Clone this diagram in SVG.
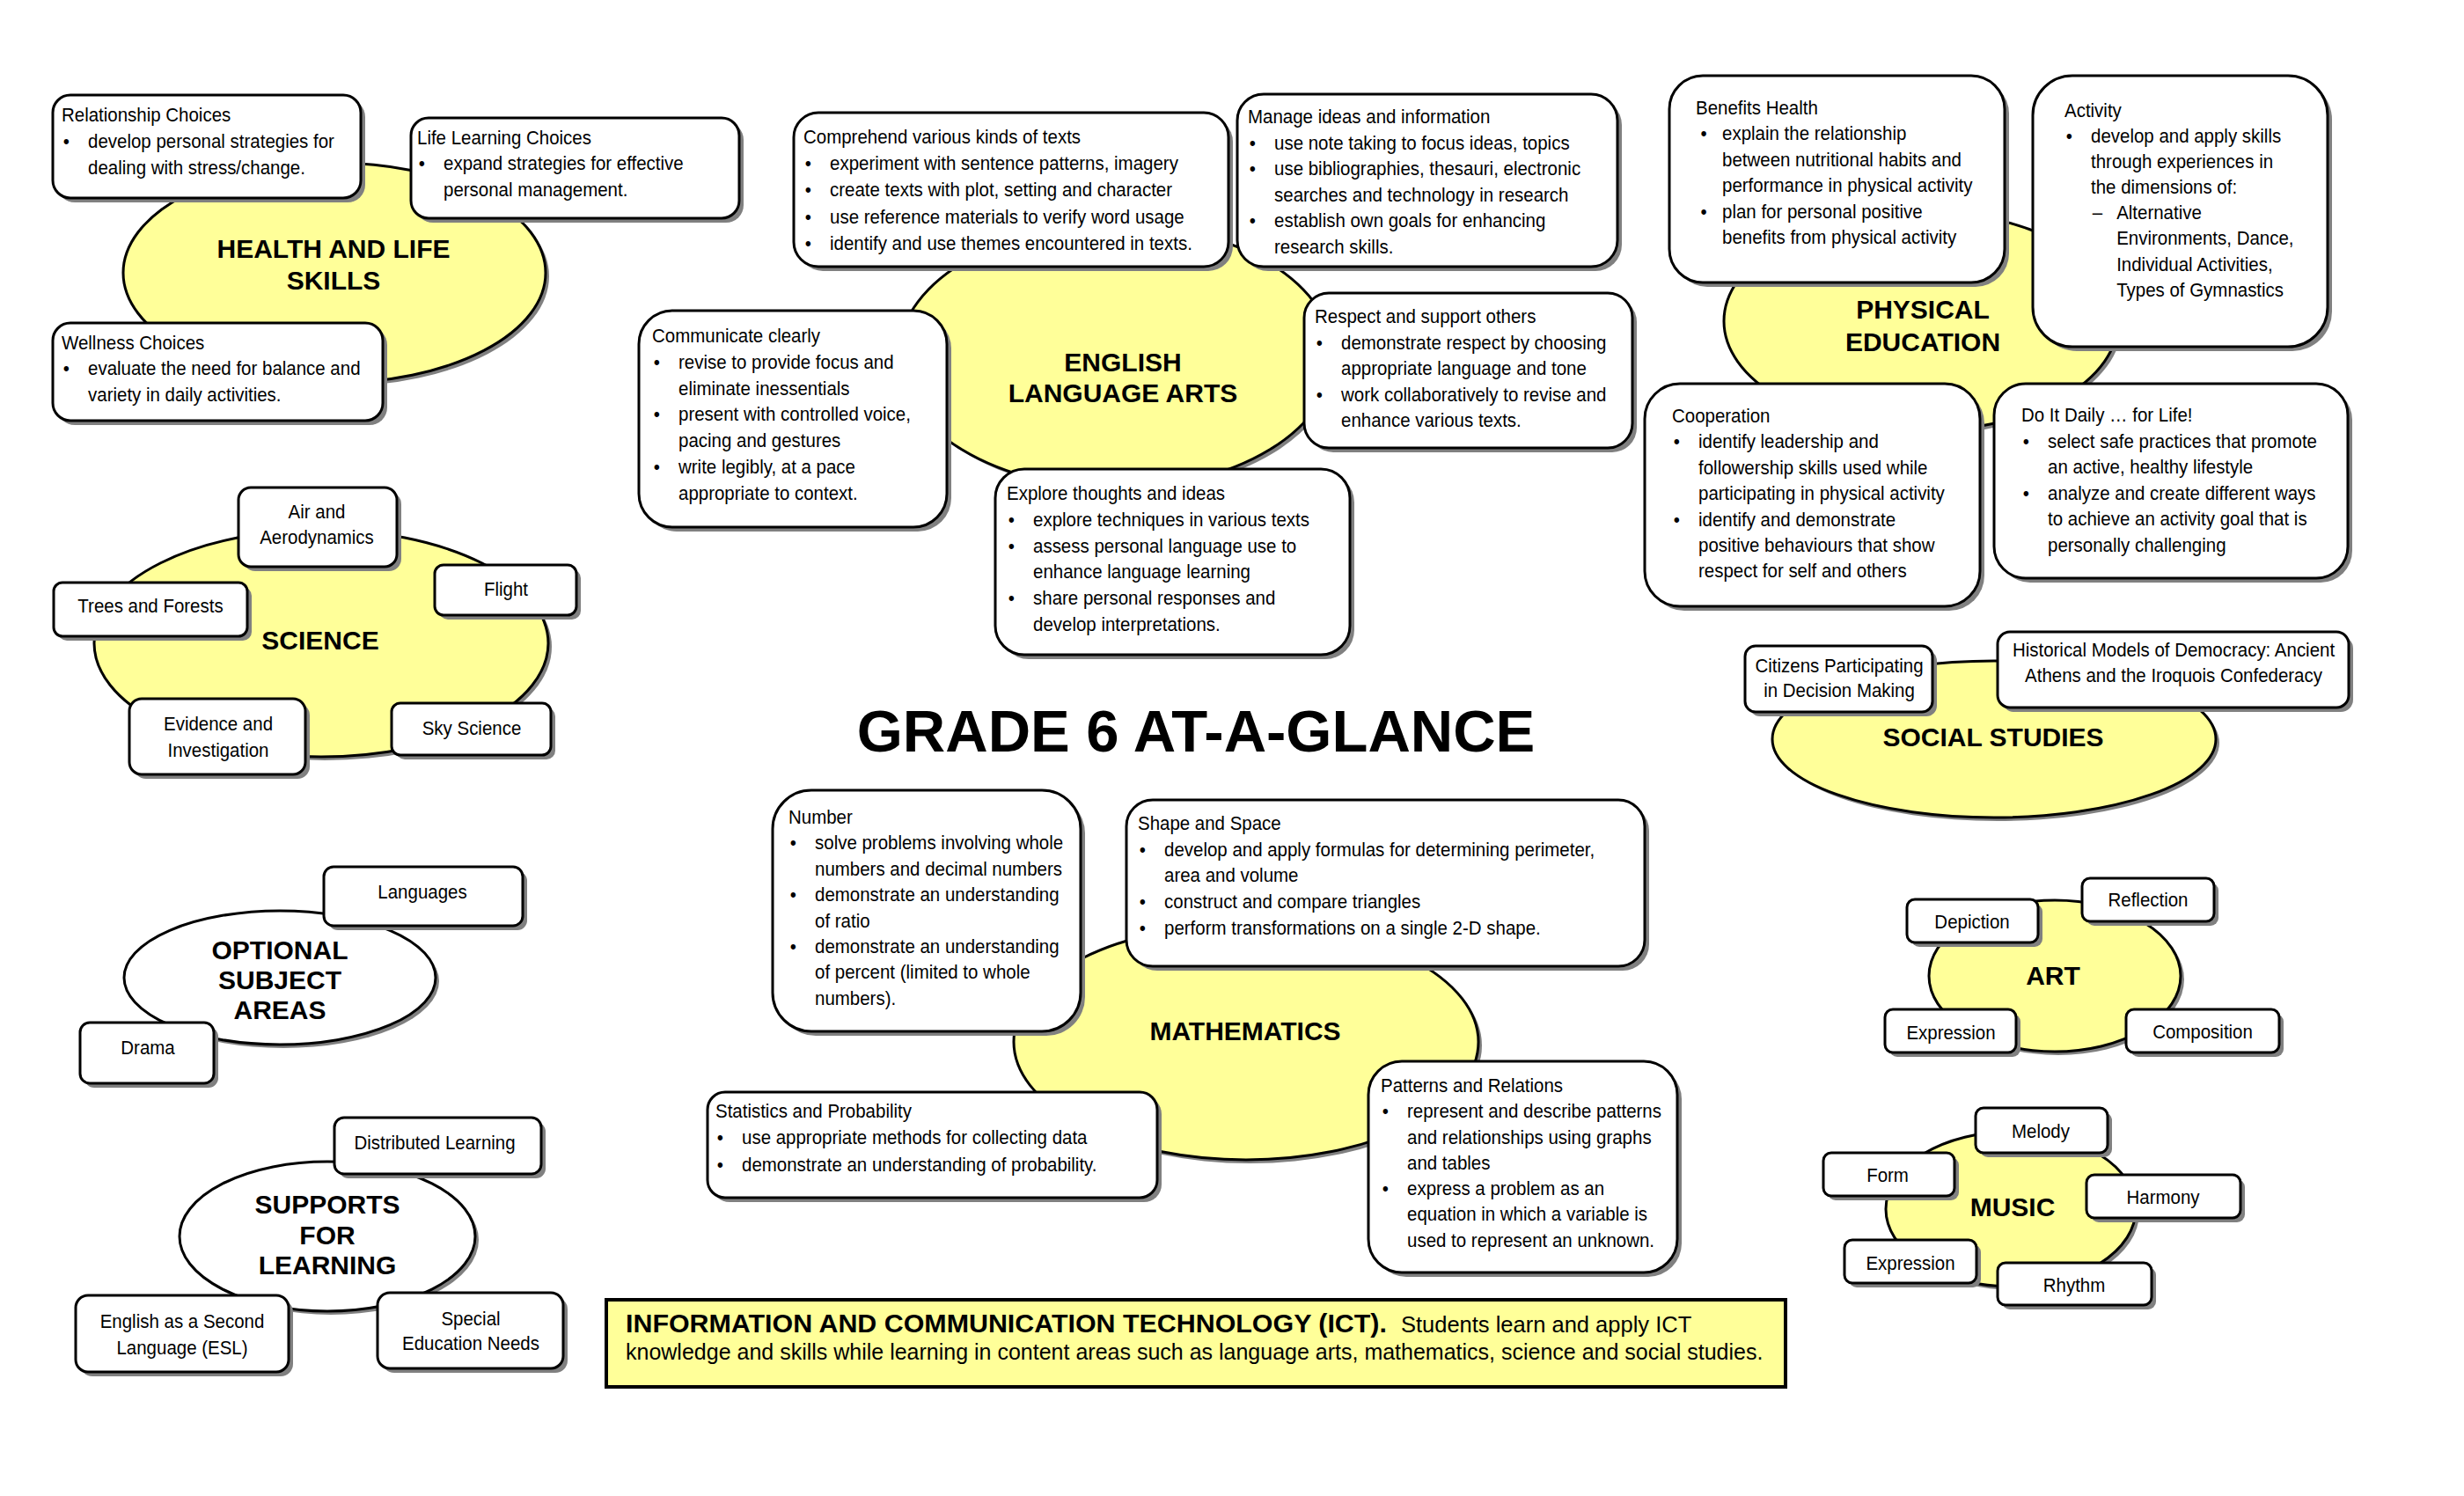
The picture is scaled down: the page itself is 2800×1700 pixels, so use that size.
<svg xmlns="http://www.w3.org/2000/svg" width="2800" height="1700" viewBox="0 0 2800 1700">
<style>
.bx{fill:#fff;stroke:#000;stroke-width:3}
.sh{fill:#808080}
.el{fill:#FFFF99;stroke:#000;stroke-width:3}
.ew{fill:#fff;stroke:#000;stroke-width:3}
.t{font-family:"Liberation Sans",Arial,sans-serif;font-size:22.5px;fill:#000}
.c{text-anchor:middle}
.h{font-family:"Liberation Sans",Arial,sans-serif;font-size:30px;font-weight:bold;text-anchor:middle;fill:#000}
</style>
<rect x="0" y="0" width="2800" height="1700" fill="#fff"/>

<!-- Subject ellipses -->
<g id="health">
<ellipse class="sh" cx="384" cy="314" rx="240" ry="125"/>
<ellipse class="el" cx="380" cy="310" rx="240" ry="125"/>
<text class="h" x="379" y="293">HEALTH AND LIFE</text>
<text class="h" x="379" y="329">SKILLS</text>
</g>
<g id="ela">
<ellipse class="sh" cx="1272" cy="409" rx="247" ry="150"/>
<ellipse class="el" cx="1268" cy="405" rx="247" ry="150"/>
<text class="h" x="1276" y="422">ENGLISH</text>
<text class="h" x="1276" y="457">LANGUAGE ARTS</text>
</g>
<g id="pe">
<ellipse class="sh" cx="2187" cy="369" rx="224" ry="125"/>
<ellipse class="el" cx="2183" cy="365" rx="224" ry="125"/>
<text class="h" x="2185" y="362">PHYSICAL</text>
<text class="h" x="2185" y="399">EDUCATION</text>
</g>
<g id="science">
<ellipse class="sh" cx="369" cy="735" rx="258" ry="129"/>
<ellipse class="el" cx="365" cy="731" rx="258" ry="129"/>
<text class="h" x="364" y="738">SCIENCE</text>
</g>
<g id="optional">
<ellipse class="sh" cx="322" cy="1115" rx="177" ry="76"/>
<ellipse class="ew" cx="318" cy="1111" rx="177" ry="76"/>
<text class="h" x="318" y="1090">OPTIONAL</text>
<text class="h" x="318" y="1124">SUBJECT</text>
<text class="h" x="318" y="1158">AREAS</text>
</g>
<g id="supports">
<ellipse class="sh" cx="376" cy="1409" rx="168" ry="85"/>
<ellipse class="ew" cx="372" cy="1405" rx="168" ry="85"/>
<text class="h" x="372" y="1379">SUPPORTS</text>
<text class="h" x="372" y="1414">FOR</text>
<text class="h" x="372" y="1448">LEARNING</text>
</g>
<g id="math">
<ellipse class="sh" cx="1420" cy="1188" rx="264" ry="134"/>
<ellipse class="el" cx="1416" cy="1184" rx="264" ry="134"/>
<text class="h" x="1415" y="1182">MATHEMATICS</text>
</g>
<g id="social">
<ellipse class="sh" cx="2270" cy="844" rx="252" ry="89"/>
<ellipse class="el" cx="2266" cy="840" rx="252" ry="89"/>
<text class="h" x="2265" y="848">SOCIAL STUDIES</text>
</g>
<g id="art">
<ellipse class="sh" cx="2339" cy="1113" rx="143" ry="86"/>
<ellipse class="el" cx="2335" cy="1109" rx="143" ry="86"/>
<text class="h" x="2333" y="1119">ART</text>
</g>
<g id="music">
<ellipse class="sh" cx="2289" cy="1378" rx="142" ry="88"/>
<ellipse class="el" cx="2285" cy="1374" rx="142" ry="88"/>
<text class="h" x="2287" y="1382">MUSIC</text>
</g>

<!-- Health boxes -->
<g id="hls-relationship">
<rect class="sh" x="65" y="113" width="350" height="117" rx="20"/>
<rect class="bx" x="60" y="108" width="350" height="117" rx="20"/>
<text class="t" transform="translate(70 138) scale(0.91 1)"><tspan x="0">Relationship Choices</tspan><tspan x="2" dy="30">•</tspan><tspan x="33">develop personal strategies for</tspan><tspan x="33" dy="30">dealing with stress/change.</tspan></text>
</g>
<g id="hls-lifelearning">
<rect class="sh" x="472" y="139" width="373" height="114" rx="20"/>
<rect class="bx" x="467" y="134" width="373" height="114" rx="20"/>
<text class="t" transform="translate(474 164) scale(0.91 1)"><tspan x="0">Life Learning Choices</tspan><tspan x="2" dy="29.5">•</tspan><tspan x="33">expand strategies for effective</tspan><tspan x="33" dy="29.5">personal management.</tspan></text>
</g>
<g id="hls-wellness">
<rect class="sh" x="65" y="372" width="375" height="111" rx="20"/>
<rect class="bx" x="60" y="367" width="375" height="111" rx="20"/>
<text class="t" transform="translate(70 397) scale(0.91 1)"><tspan x="0">Wellness Choices</tspan><tspan x="2" dy="29.5">•</tspan><tspan x="33">evaluate the need for balance and</tspan><tspan x="33" dy="29.5">variety in daily activities.</tspan></text>
</g>

<!-- ELA boxes -->
<g id="ela-comprehend">
<rect class="sh" x="907" y="133" width="494" height="175" rx="28"/>
<rect class="bx" x="902" y="128" width="494" height="175" rx="28"/>
<text class="t" transform="translate(913 163) scale(0.91 1)"><tspan x="0">Comprehend various kinds of texts</tspan><tspan x="2" dy="30.2">•</tspan><tspan x="33">experiment with sentence patterns, imagery</tspan><tspan x="2" dy="30.2">•</tspan><tspan x="33">create texts with plot, setting and character</tspan><tspan x="2" dy="30.2">•</tspan><tspan x="33">use reference materials to verify word usage</tspan><tspan x="2" dy="30.2">•</tspan><tspan x="33">identify and use themes encountered in texts.</tspan></text>
</g>
<g id="ela-manage">
<rect class="sh" x="1411" y="112" width="432" height="196" rx="30"/>
<rect class="bx" x="1406" y="107" width="432" height="196" rx="30"/>
<text class="t" transform="translate(1418 140) scale(0.91 1)"><tspan x="0">Manage ideas and information</tspan><tspan x="2" dy="29.6">•</tspan><tspan x="33">use note taking to focus ideas, topics</tspan><tspan x="2" dy="29.6">•</tspan><tspan x="33">use bibliographies, thesauri, electronic</tspan><tspan x="33" dy="29.6">searches and technology in research</tspan><tspan x="2" dy="29.6">•</tspan><tspan x="33">establish own goals for enhancing</tspan><tspan x="33" dy="29.6">research skills.</tspan></text>
</g>
<g id="ela-communicate">
<rect class="sh" x="731" y="358" width="350" height="246" rx="38"/>
<rect class="bx" x="726" y="353" width="350" height="246" rx="38"/>
<text class="t" transform="translate(741 389) scale(0.91 1)"><tspan x="0">Communicate clearly</tspan><tspan x="2" dy="29.8">•</tspan><tspan x="33">revise to provide focus and</tspan><tspan x="33" dy="29.8">eliminate inessentials</tspan><tspan x="2" dy="29.8">•</tspan><tspan x="33">present with controlled voice,</tspan><tspan x="33" dy="29.8">pacing and gestures</tspan><tspan x="2" dy="29.8">•</tspan><tspan x="33">write legibly, at a pace</tspan><tspan x="33" dy="29.8">appropriate to context.</tspan></text>
</g>
<g id="ela-respect">
<rect class="sh" x="1487" y="338" width="373" height="176" rx="28"/>
<rect class="bx" x="1482" y="333" width="373" height="176" rx="28"/>
<text class="t" transform="translate(1494 367) scale(0.91 1)"><tspan x="0">Respect and support others</tspan><tspan x="2" dy="29.6">•</tspan><tspan x="33">demonstrate respect by choosing</tspan><tspan x="33" dy="29.6">appropriate language and tone</tspan><tspan x="2" dy="29.6">•</tspan><tspan x="33">work collaboratively to revise and</tspan><tspan x="33" dy="29.6">enhance various texts.</tspan></text>
</g>
<g id="ela-explore">
<rect class="sh" x="1136" y="538" width="403" height="211" rx="33"/>
<rect class="bx" x="1131" y="533" width="403" height="211" rx="33"/>
<text class="t" transform="translate(1144 568) scale(0.91 1)"><tspan x="0">Explore thoughts and ideas</tspan><tspan x="2" dy="29.8">•</tspan><tspan x="33">explore techniques in various texts</tspan><tspan x="2" dy="29.8">•</tspan><tspan x="33">assess personal language use to</tspan><tspan x="33" dy="29.8">enhance language learning</tspan><tspan x="2" dy="29.8">•</tspan><tspan x="33">share personal responses and</tspan><tspan x="33" dy="29.8">develop interpretations.</tspan></text>
</g>

<!-- PE boxes -->
<g id="pe-benefits">
<rect class="sh" x="1902" y="91" width="381" height="235" rx="38"/>
<rect class="bx" x="1897" y="86" width="381" height="235" rx="38"/>
<text class="t" transform="translate(1927 130) scale(0.91 1)"><tspan x="0">Benefits Health</tspan><tspan x="6" dy="29.5">•</tspan><tspan x="33">explain the relationship</tspan><tspan x="33" dy="29.5">between nutritional habits and</tspan><tspan x="33" dy="29.5">performance in physical activity</tspan><tspan x="6" dy="29.5">•</tspan><tspan x="33">plan for personal positive</tspan><tspan x="33" dy="29.5">benefits from physical activity</tspan></text>
</g>
<g id="pe-activity">
<rect class="sh" x="2315" y="91" width="335" height="308" rx="45"/>
<rect class="bx" x="2310" y="86" width="335" height="308" rx="45"/>
<text class="t" transform="translate(2346 133) scale(0.91 1)"><tspan x="0">Activity</tspan><tspan x="2" dy="29.1">•</tspan><tspan x="33">develop and apply skills</tspan><tspan x="33" dy="29.1">through experiences in</tspan><tspan x="33" dy="29.1">the dimensions of:</tspan><tspan x="35" dy="29.1">–</tspan><tspan x="65">Alternative</tspan><tspan x="65" dy="29.1">Environments, Dance,</tspan><tspan x="65" dy="29.1">Individual Activities,</tspan><tspan x="65" dy="29.1">Types of Gymnastics</tspan></text>
</g>
<g id="pe-cooperation">
<rect class="sh" x="1874" y="441" width="381" height="253" rx="40"/>
<rect class="bx" x="1869" y="436" width="381" height="253" rx="40"/>
<text class="t" transform="translate(1900 480) scale(0.91 1)"><tspan x="0">Cooperation</tspan><tspan x="2" dy="29.4">•</tspan><tspan x="33">identify leadership and</tspan><tspan x="33" dy="29.4">followership skills used while</tspan><tspan x="33" dy="29.4">participating in physical activity</tspan><tspan x="2" dy="29.4">•</tspan><tspan x="33">identify and demonstrate</tspan><tspan x="33" dy="29.4">positive behaviours that show</tspan><tspan x="33" dy="29.4">respect for self and others</tspan></text>
</g>
<g id="pe-daily">
<rect class="sh" x="2271" y="441" width="402" height="221" rx="36"/>
<rect class="bx" x="2266" y="436" width="402" height="221" rx="36"/>
<text class="t" transform="translate(2297 479) scale(0.91 1)"><tspan x="0">Do It Daily … for Life!</tspan><tspan x="2" dy="29.6">•</tspan><tspan x="33">select safe practices that promote</tspan><tspan x="33" dy="29.6">an active, healthy lifestyle</tspan><tspan x="2" dy="29.6">•</tspan><tspan x="33">analyze and create different ways</tspan><tspan x="33" dy="29.6">to achieve an activity goal that is</tspan><tspan x="33" dy="29.6">personally challenging</tspan></text>
</g>

<!-- Science boxes -->
<g id="sci-air">
<rect class="sh" x="276" y="559" width="180" height="90" rx="14"/>
<rect class="bx" x="271" y="554" width="180" height="90" rx="14"/>
<text class="t c" transform="translate(360 589) scale(0.91 1)"><tspan x="0">Air and</tspan><tspan x="0" dy="29">Aerodynamics</tspan></text>
</g>
<g id="sci-trees">
<rect class="sh" x="66" y="667" width="220" height="61" rx="10"/>
<rect class="bx" x="61" y="662" width="220" height="61" rx="10"/>
<text class="t c" transform="translate(171 696) scale(0.91 1)">Trees and Forests</text>
</g>
<g id="sci-flight">
<rect class="sh" x="499" y="647" width="161" height="57" rx="10"/>
<rect class="bx" x="494" y="642" width="161" height="57" rx="10"/>
<text class="t c" transform="translate(575 677) scale(0.91 1)">Flight</text>
</g>
<g id="sci-evidence">
<rect class="sh" x="152" y="799" width="200" height="86" rx="14"/>
<rect class="bx" x="147" y="794" width="200" height="86" rx="14"/>
<text class="t c" transform="translate(248 830) scale(0.91 1)"><tspan x="0">Evidence and</tspan><tspan x="0" dy="30">Investigation</tspan></text>
</g>
<g id="sci-sky">
<rect class="sh" x="450" y="804" width="181" height="59" rx="10"/>
<rect class="bx" x="445" y="799" width="181" height="59" rx="10"/>
<text class="t c" transform="translate(536 835) scale(0.91 1)">Sky Science</text>
</g>

<!-- Optional boxes -->
<g id="opt-languages">
<rect class="sh" x="373" y="990" width="226" height="67" rx="11"/>
<rect class="bx" x="368" y="985" width="226" height="67" rx="11"/>
<text class="t c" transform="translate(480 1021) scale(0.91 1)">Languages</text>
</g>
<g id="opt-drama">
<rect class="sh" x="96" y="1167" width="152" height="69" rx="11"/>
<rect class="bx" x="91" y="1162" width="152" height="69" rx="11"/>
<text class="t c" transform="translate(168 1198) scale(0.91 1)">Drama</text>
</g>

<!-- Supports boxes -->
<g id="sup-distributed">
<rect class="sh" x="385" y="1275" width="235" height="64" rx="11"/>
<rect class="bx" x="380" y="1270" width="235" height="64" rx="11"/>
<text class="t c" transform="translate(494 1306) scale(0.91 1)">Distributed Learning</text>
</g>
<g id="sup-esl">
<rect class="sh" x="91" y="1477" width="242" height="87" rx="14"/>
<rect class="bx" x="86" y="1472" width="242" height="87" rx="14"/>
<text class="t c" transform="translate(207 1509) scale(0.91 1)"><tspan x="0">English as a Second</tspan><tspan x="0" dy="30">Language (ESL)</tspan></text>
</g>
<g id="sup-special">
<rect class="sh" x="434" y="1474" width="211" height="86" rx="14"/>
<rect class="bx" x="429" y="1469" width="211" height="86" rx="14"/>
<text class="t c" transform="translate(535 1506) scale(0.91 1)"><tspan x="0">Special</tspan><tspan x="0" dy="28">Education Needs</tspan></text>
</g>

<!-- Math boxes -->
<g id="math-number">
<rect class="sh" x="883" y="903" width="350" height="274" rx="44"/>
<rect class="bx" x="878" y="898" width="350" height="274" rx="44"/>
<text class="t" transform="translate(896 936) scale(0.91 1)"><tspan x="0">Number</tspan><tspan x="2" dy="29.4">•</tspan><tspan x="33">solve problems involving whole</tspan><tspan x="33" dy="29.4">numbers and decimal numbers</tspan><tspan x="2" dy="29.4">•</tspan><tspan x="33">demonstrate an understanding</tspan><tspan x="33" dy="29.4">of ratio</tspan><tspan x="2" dy="29.4">•</tspan><tspan x="33">demonstrate an understanding</tspan><tspan x="33" dy="29.4">of percent (limited to whole</tspan><tspan x="33" dy="29.4">numbers).</tspan></text>
</g>
<g id="math-shape">
<rect class="sh" x="1285" y="914" width="589" height="189" rx="30"/>
<rect class="bx" x="1280" y="909" width="589" height="189" rx="30"/>
<text class="t" transform="translate(1293 943) scale(0.91 1)"><tspan x="0">Shape and Space</tspan><tspan x="2" dy="29.7">•</tspan><tspan x="33">develop and apply formulas for determining perimeter,</tspan><tspan x="33" dy="29.7">area and volume</tspan><tspan x="2" dy="29.7">•</tspan><tspan x="33">construct and compare triangles</tspan><tspan x="2" dy="29.7">•</tspan><tspan x="33">perform transformations on a single 2-D shape.</tspan></text>
</g>
<g id="math-stats">
<rect class="sh" x="809" y="1246" width="511" height="120" rx="20"/>
<rect class="bx" x="804" y="1241" width="511" height="120" rx="20"/>
<text class="t" transform="translate(813 1270) scale(0.91 1)"><tspan x="0">Statistics and Probability</tspan><tspan x="2" dy="30.5">•</tspan><tspan x="33">use appropriate methods for collecting data</tspan><tspan x="2" dy="30.5">•</tspan><tspan x="33">demonstrate an understanding of probability.</tspan></text>
</g>
<g id="math-patterns">
<rect class="sh" x="1560" y="1211" width="351" height="240" rx="38"/>
<rect class="bx" x="1555" y="1206" width="351" height="240" rx="38"/>
<text class="t" transform="translate(1569 1241) scale(0.91 1)"><tspan x="0">Patterns and Relations</tspan><tspan x="2" dy="29.3">•</tspan><tspan x="33">represent and describe patterns</tspan><tspan x="33" dy="29.3">and relationships using graphs</tspan><tspan x="33" dy="29.3">and tables</tspan><tspan x="2" dy="29.3">•</tspan><tspan x="33">express a problem as an</tspan><tspan x="33" dy="29.3">equation in which a variable is</tspan><tspan x="33" dy="29.3">used to represent an unknown.</tspan></text>
</g>

<!-- Social studies boxes -->
<g id="ss-citizens">
<rect class="sh" x="1988" y="739" width="213" height="75" rx="12"/>
<rect class="bx" x="1983" y="734" width="213" height="75" rx="12"/>
<text class="t c" transform="translate(2090 764) scale(0.91 1)"><tspan x="0">Citizens Participating</tspan><tspan x="0" dy="28.5">in Decision Making</tspan></text>
</g>
<g id="ss-historical">
<rect class="sh" x="2275" y="723" width="399" height="86" rx="14"/>
<rect class="bx" x="2270" y="718" width="399" height="86" rx="14"/>
<text class="t c" transform="translate(2470 746) scale(0.91 1)"><tspan x="0">Historical Models of Democracy: Ancient</tspan><tspan x="0" dy="29.5">Athens and the Iroquois Confederacy</tspan></text>
</g>

<!-- Art boxes -->
<g id="art-depiction">
<rect class="sh" x="2172" y="1027" width="149" height="49" rx="9"/>
<rect class="bx" x="2167" y="1022" width="149" height="49" rx="9"/>
<text class="t c" transform="translate(2241 1055) scale(0.91 1)">Depiction</text>
</g>
<g id="art-reflection">
<rect class="sh" x="2371" y="1003" width="150" height="49" rx="9"/>
<rect class="bx" x="2366" y="998" width="150" height="49" rx="9"/>
<text class="t c" transform="translate(2441 1030) scale(0.91 1)">Reflection</text>
</g>
<g id="art-expression">
<rect class="sh" x="2147" y="1152" width="149" height="49" rx="9"/>
<rect class="bx" x="2142" y="1147" width="149" height="49" rx="9"/>
<text class="t c" transform="translate(2217 1181) scale(0.91 1)">Expression</text>
</g>
<g id="art-composition">
<rect class="sh" x="2421" y="1152" width="174" height="49" rx="9"/>
<rect class="bx" x="2416" y="1147" width="174" height="49" rx="9"/>
<text class="t c" transform="translate(2503 1180) scale(0.91 1)">Composition</text>
</g>

<!-- Music boxes -->
<g id="mus-melody">
<rect class="sh" x="2250" y="1264" width="150" height="51" rx="9"/>
<rect class="bx" x="2245" y="1259" width="150" height="51" rx="9"/>
<text class="t c" transform="translate(2319 1293) scale(0.91 1)">Melody</text>
</g>
<g id="mus-form">
<rect class="sh" x="2077" y="1315" width="149" height="49" rx="9"/>
<rect class="bx" x="2072" y="1310" width="149" height="49" rx="9"/>
<text class="t c" transform="translate(2145 1343) scale(0.91 1)">Form</text>
</g>
<g id="mus-harmony">
<rect class="sh" x="2376" y="1340" width="175" height="49" rx="9"/>
<rect class="bx" x="2371" y="1335" width="175" height="49" rx="9"/>
<text class="t c" transform="translate(2458 1368) scale(0.91 1)">Harmony</text>
</g>
<g id="mus-expression">
<rect class="sh" x="2101" y="1414" width="150" height="49" rx="9"/>
<rect class="bx" x="2096" y="1409" width="150" height="49" rx="9"/>
<text class="t c" transform="translate(2171 1443) scale(0.91 1)">Expression</text>
</g>
<g id="mus-rhythm">
<rect class="sh" x="2275" y="1440" width="175" height="48" rx="9"/>
<rect class="bx" x="2270" y="1435" width="175" height="48" rx="9"/>
<text class="t c" transform="translate(2357 1468) scale(0.91 1)">Rhythm</text>
</g>

<!-- Title -->
<g id="title">
<text x="1359" y="854" font-family="Liberation Sans, Arial, sans-serif" font-size="67" font-weight="bold" text-anchor="middle">GRADE 6 AT-A-GLANCE</text>
</g>

<!-- ICT -->
<g id="ict">
<rect x="689" y="1477" width="1340" height="99" fill="#FFFF99" stroke="#000" stroke-width="4"/>
<text x="711" y="1514" font-family="Liberation Sans, Arial, sans-serif" font-size="25.5"><tspan font-weight="bold" font-size="30.4">INFORMATION AND COMMUNICATION TECHNOLOGY (ICT).</tspan><tspan dx="16">Students learn and apply ICT</tspan></text>
<text x="711" y="1545" font-family="Liberation Sans, Arial, sans-serif" font-size="25">knowledge and skills while learning in content areas such as language arts, mathematics, science and social studies.</text>
</g>
</svg>
